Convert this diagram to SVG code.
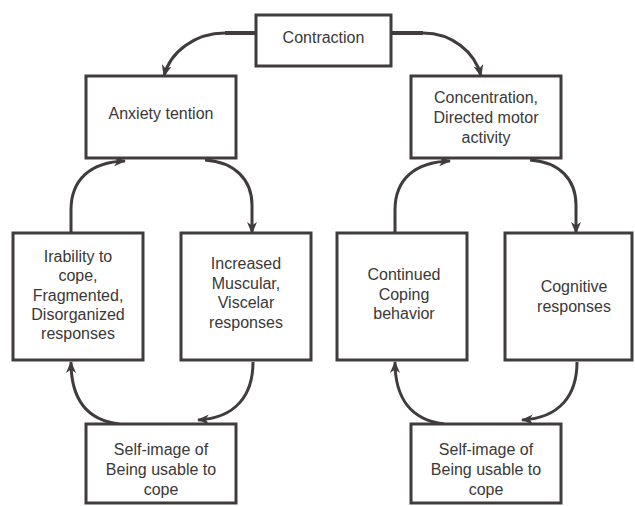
<svg xmlns="http://www.w3.org/2000/svg" width="635" height="506" viewBox="0 0 635 506">
<style>
.box{fill:#fff;stroke:#403c3c;stroke-width:3}
.t{font-family:"Liberation Sans",Arial,sans-serif;font-size:16px;fill:#3a3838;text-anchor:middle}
.c{fill:none;stroke:#403c3c;stroke-width:3}
.stub{fill:none;stroke:#403c3c;stroke-width:4}
</style>
<defs>
<marker id="ah" viewBox="0 0 12 10" refX="11" refY="5" markerWidth="12" markerHeight="10" markerUnits="userSpaceOnUse" orient="auto">
<path d="M0,0 L12,5 L0,10 L3.5,5 z" fill="#403c3c"/>
</marker>
</defs>
<rect width="635" height="506" fill="#fff"/>
<g id="connectors">
<path class="stub" d="M256,33 H225"/>
<path class="c" d="M225,33 C195,33 170,52 164,76" marker-end="url(#ah)"/>
<path class="stub" d="M391,33 H423"/>
<path class="c" d="M423,33 C452,33 475,52 481,76" marker-end="url(#ah)"/>
<path class="c" d="M71,233 V210 C71,180 90,162 125,161" marker-end="url(#ah)"/>
<path class="c" d="M205,160 C235,162 252,180 252,205 V233" marker-end="url(#ah)"/>
<path class="c" d="M395,233 V210 C395,180 414,162 450,161" marker-end="url(#ah)"/>
<path class="c" d="M530,160 C560,162 576,180 576,205 V233" marker-end="url(#ah)"/>
<path class="c" d="M253,362 C253,395 236,418 198,420" marker-end="url(#ah)"/>
<path class="c" d="M119,424 C86,420 71,398 71,362" marker-end="url(#ah)"/>
<path class="c" d="M577,362 C577,395 560,418 522,420" marker-end="url(#ah)"/>
<path class="c" d="M444,424 C411,420 395,398 395,362" marker-end="url(#ah)"/>
</g>
<g id="contraction"><rect class="box" x="256" y="15" width="135" height="51"/><text class="t" x="323.5" y="43">Contraction</text></g>
<g id="anxiety"><rect class="box" x="86" y="76" width="150" height="82"/><text class="t" x="161" y="119">Anxiety tention</text></g>
<g id="concentration"><rect class="box" x="411" y="76" width="150" height="82"/>
<text class="t" x="486" y="103">Concentration,</text><text class="t" x="486" y="123">Directed motor</text><text class="t" x="486" y="143">activity</text></g>
<g id="irability"><rect class="box" x="13" y="233" width="130" height="127"/>
<text class="t" x="78" y="262">Irability to</text><text class="t" x="78" y="281.3">cope,</text><text class="t" x="78" y="300.6">Fragmented,</text><text class="t" x="78" y="319.9">Disorganized</text><text class="t" x="78" y="339.2">responses</text></g>
<g id="increased"><rect class="box" x="181" y="233" width="130" height="127"/>
<text class="t" x="246" y="269">Increased</text><text class="t" x="246" y="288.5">Muscular,</text><text class="t" x="246" y="308">Viscelar</text><text class="t" x="246" y="327.5">responses</text></g>
<g id="continued"><rect class="box" x="337" y="233" width="130" height="127"/>
<text class="t" x="404" y="280">Continued</text><text class="t" x="404" y="299.5">Coping</text><text class="t" x="404" y="319">behavior</text></g>
<g id="cognitive"><rect class="box" x="505" y="233" width="127" height="127"/>
<text class="t" x="574" y="292">Cognitive</text><text class="t" x="574" y="311.5">responses</text></g>
<g id="selfimage-left"><rect class="box" x="86" y="424" width="150" height="79"/>
<text class="t" x="161" y="455">Self-image of</text><text class="t" x="161" y="475">Being usable to</text><text class="t" x="161" y="495">cope</text></g>
<g id="selfimage-right"><rect class="box" x="411" y="424" width="150" height="79"/>
<text class="t" x="486" y="455">Self-image of</text><text class="t" x="486" y="475">Being usable to</text><text class="t" x="486" y="495">cope</text></g>
</svg>
